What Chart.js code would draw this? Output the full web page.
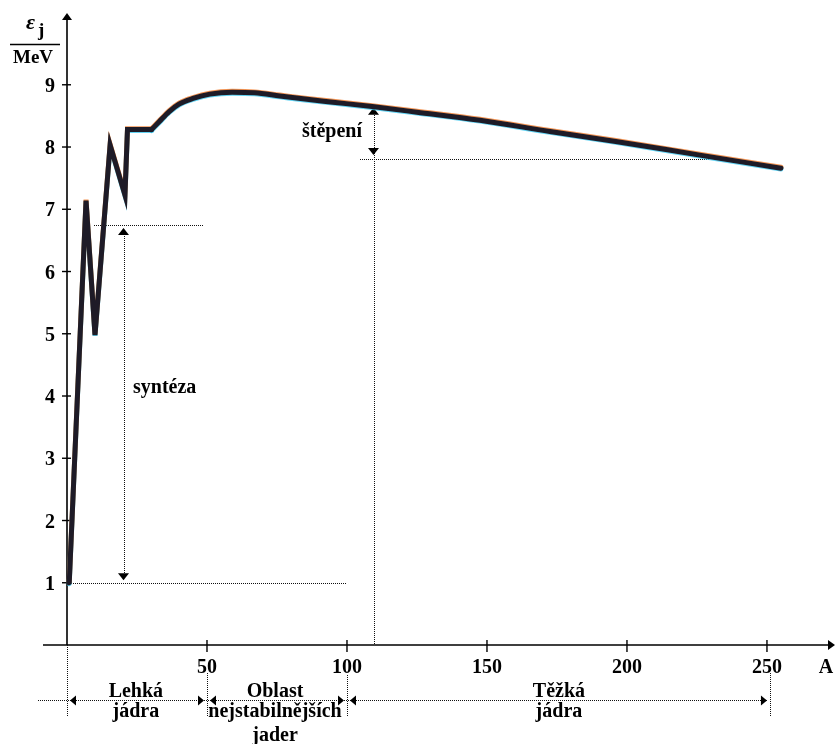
<!DOCTYPE html>
<html>
<head>
<meta charset="utf-8">
<script src="https://cdn.jsdelivr.net/npm/chart.js@4.4.1/dist/chart.umd.min.js"></script>
<style>
  html, body { margin: 0; padding: 0; background: #ffffff; }
  canvas { display: block; }
</style>
</head>
<body>
<canvas id="chart" width="836" height="744"></canvas>
<script>
// Binding energy per nucleon (MeV) against mass number A
// light nuclei: jagged part of the curve
const lightA = [0.8, 6.8, 10, 15.4, 20.7, 21.6, 30.2];
const lightE = [1.0, 7.14, 4.98, 8.03, 7.23, 8.28, 8.28];
// medium and heavy nuclei: smooth part of the curve
const heavyA = [30.2, 33, 36.5, 40, 45, 51, 59, 67, 76, 85, 95, 109, 125, 147.5, 172.5, 196, 226, 255];
const heavyE = [8.28, 8.41, 8.57, 8.69, 8.78, 8.85, 8.88, 8.87, 8.82, 8.77, 8.72, 8.65, 8.56, 8.43, 8.25, 8.09, 7.87, 7.66];

// axis tick labels
const yTicks = [1, 2, 3, 4, 5, 6, 7, 8, 9];
const xTicks = [50, 100, 150, 200, 250];

// regions of nuclei below the A axis
const regionEdges = [0, 50, 100, 250];
const regionLabels = [
  { a: 24.6, lines: ['Lehká', 'jádra'] },
  { a: 74.3, lines: ['Oblast', 'nejstabilnějších', 'jader'] },
  { a: 175.7, lines: ['Těžká', 'jádra'] }
];

// fusion and fission energy markers
const fusionA = 20, fusionFrom = 1.04, fusionTo = 6.70;
const fusionLevel = 6.74, fusionLevelFrom = 9.6, fusionLevelTo = 49;
const baseLevel = 1.0, baseLevelTo = 100;
const fissionA = 109.3, fissionTop = 8.63, fissionBottom = 7.87;
const fissionLevel = 7.81, fissionLevelFrom = 104.6, fissionLevelTo = 229.6;

const toPoints = (xs, ys) => xs.map((x, i) => ({ x: x, y: ys[i] }));

const SERIF = '"Liberation Serif", "Times New Roman", serif';
const crisp = v => Math.round(v) + 0.5;

function dotted(ctx, x1, y1, x2, y2) {
  ctx.save();
  ctx.strokeStyle = '#111';
  ctx.lineWidth = 1;
  ctx.setLineDash([1, 1]);
  ctx.beginPath();
  if (x1 === x2) {
    ctx.moveTo(crisp(x1), Math.round(y1));
    ctx.lineTo(crisp(x2), Math.round(y2));
  } else {
    ctx.moveTo(Math.round(x1), crisp(y1));
    ctx.lineTo(Math.round(x2), crisp(y2));
  }
  ctx.stroke();
  ctx.restore();
}

// filled arrow head with its tip at (x, y)
function head(ctx, x, y, dir, len, half) {
  ctx.save();
  ctx.fillStyle = '#000';
  ctx.beginPath();
  ctx.moveTo(x, y);
  if (dir === 'up') { ctx.lineTo(x - half, y + len); ctx.lineTo(x + half, y + len); }
  if (dir === 'down') { ctx.lineTo(x - half, y - len); ctx.lineTo(x + half, y - len); }
  if (dir === 'left') { ctx.lineTo(x + len, y - half); ctx.lineTo(x + len, y + half); }
  if (dir === 'right') { ctx.lineTo(x - len, y - half); ctx.lineTo(x - len, y + half); }
  ctx.closePath();
  ctx.fill();
  ctx.restore();
}

const axesAndNotes = {
  id: 'axesAndNotes',
  beforeDatasetsDraw(chart) {
    const ctx = chart.ctx;
    const xs = chart.scales.x, ys = chart.scales.y;
    const X = v => xs.getPixelForValue(v);
    const Y = v => ys.getPixelForValue(v);
    const x0 = X(0), y0 = Y(0);
    const area = chart.chartArea;

    ctx.save();
    // axes
    ctx.strokeStyle = '#000';
    ctx.lineWidth = 1.6;
    ctx.beginPath();
    ctx.moveTo(x0, y0);
    ctx.lineTo(x0, area.top + 5);
    ctx.moveTo(x0 - 24, y0);
    ctx.lineTo(area.right - 5, y0);
    ctx.stroke();
    head(ctx, x0, area.top + 1, 'up', 7, 5);
    head(ctx, area.right, y0, 'right', 7, 5);

    // ticks and tick labels
    ctx.lineWidth = 1.4;
    ctx.fillStyle = '#000';
    ctx.font = 'bold 20px ' + SERIF;
    ctx.textAlign = 'right';
    ctx.textBaseline = 'alphabetic';
    yTicks.forEach(v => {
      const py = Y(v);
      ctx.beginPath();
      ctx.moveTo(x0 - 5, py);
      ctx.lineTo(x0 + 4, py);
      ctx.stroke();
      ctx.fillText(String(v), x0 - 12, py + 7);
    });
    ctx.textAlign = 'center';
    xTicks.forEach(v => {
      const px = X(v);
      ctx.beginPath();
      ctx.moveTo(px, y0 - 5);
      ctx.lineTo(px, y0 + 7);
      ctx.stroke();
      ctx.fillText(String(v), px, y0 + 28);
    });
    ctx.fillText('A', area.right - 9, y0 + 28);

    // axis title: epsilon_j / MeV
    ctx.textAlign = 'left';
    ctx.font = 'italic bold 22px ' + SERIF;
    ctx.fillText('ε', 26, 29);
    ctx.font = 'bold 19px ' + SERIF;
    ctx.fillText('j', 38, 36);
    ctx.lineWidth = 1.5;
    ctx.beginPath();
    ctx.moveTo(10, 44.5);
    ctx.lineTo(60, 44.5);
    ctx.stroke();
    ctx.textAlign = 'center';
    ctx.fillText('MeV', 33, 63);

    // fusion (syntéza)
    dotted(ctx, x0, Y(baseLevel), X(baseLevelTo), Y(baseLevel));
    dotted(ctx, X(fusionLevelFrom), Y(fusionLevel), X(fusionLevelTo), Y(fusionLevel));
    const fx = crisp(X(fusionA));
    dotted(ctx, fx, Y(fusionTo) + 6, fx, Y(fusionFrom) - 6);
    head(ctx, fx, Y(fusionTo), 'up', 7, 5.5);
    head(ctx, fx, Y(fusionFrom), 'down', 7, 5.5);
    ctx.textAlign = 'left';
    ctx.font = 'bold 20px ' + SERIF;
    ctx.fillText('syntéza', 133, 393);

    // fission (štěpení)
    const sx = crisp(X(fissionA));
    dotted(ctx, sx, Y(fissionTop) + 5, sx, y0);
    dotted(ctx, X(fissionLevelFrom), Y(fissionLevel), X(fissionLevelTo), Y(fissionLevel));
    head(ctx, sx, Y(fissionTop), 'up', 7, 5.5);
    head(ctx, sx, Y(fissionBottom), 'down', 7, 5.5);
    ctx.fillText('štěpení', 302, 137);

    // regions of nuclei
    const rowY = y0 + 55;
    dotted(ctx, x0 - 29, rowY, X(regionEdges[regionEdges.length - 1]), rowY);
    dotted(ctx, x0, y0, x0, y0 + 72);
    dotted(ctx, X(50), y0 + 28, X(50), y0 + 72);
    dotted(ctx, X(100), y0 + 30, X(100), y0 + 72);
    dotted(ctx, X(251), y0 + 28, X(251), y0 + 72);
    const ry = crisp(rowY);
    head(ctx, X(0) + 3, ry, 'left', 6, 5);
    head(ctx, X(50) - 3, ry, 'right', 6, 5);
    head(ctx, X(50) + 3, ry, 'left', 6, 5);
    head(ctx, X(100) - 3, ry, 'right', 6, 5);
    head(ctx, X(100) + 3, ry, 'left', 6, 5);
    head(ctx, X(250), ry, 'right', 6, 5);
    ctx.textAlign = 'center';
    const baselines = [y0 + 52, y0 + 72, y0 + 96];
    regionLabels.forEach(r => {
      r.lines.forEach((t, i) => ctx.fillText(t, X(r.a), baselines[i]));
    });
    ctx.restore();
  }
};

// coloured edge copies of the curve are drawn shifted by about a pixel
const edgeShift = {
  id: 'edgeShift',
  beforeDatasetDraw(chart, args) {
    const s = chart.data.datasets[args.index].shiftY || 0;
    chart.ctx.save();
    chart.ctx.translate(0, s);
  },
  afterDatasetDraw(chart) {
    chart.ctx.restore();
  }
};

const curveStyle = {
  borderWidth: 5,
  pointRadius: 0,
  fill: false,
  clip: false,
  borderCapStyle: 'round',
  borderJoinStyle: 'miter'
};

new Chart(document.getElementById('chart'), {
  type: 'line',
  data: {
    datasets: [
      Object.assign({ data: toPoints(lightA, lightE), borderColor: '#1e1b27', tension: 0 }, curveStyle),
      Object.assign({ data: toPoints(heavyA, heavyE), borderColor: '#1e1b27', cubicInterpolationMode: 'monotone' }, curveStyle),
      Object.assign({ data: toPoints(lightA, lightE), borderColor: 'rgba(238,120,40,0.8)', tension: 0, shiftY: -0.9 }, curveStyle),
      Object.assign({ data: toPoints(heavyA, heavyE), borderColor: 'rgba(238,120,40,0.8)', cubicInterpolationMode: 'monotone', shiftY: -0.9 }, curveStyle),
      Object.assign({ data: toPoints(lightA, lightE), borderColor: 'rgba(60,200,240,0.8)', tension: 0, shiftY: 0.9 }, curveStyle),
      Object.assign({ data: toPoints(heavyA, heavyE), borderColor: 'rgba(60,200,240,0.8)', cubicInterpolationMode: 'monotone', shiftY: 0.9 }, curveStyle)
    ]
  },
  options: {
    responsive: false,
    animation: false,
    layout: { padding: { left: 67, right: 1, top: 12, bottom: 99 } },
    plugins: { legend: { display: false }, tooltip: { enabled: false } },
    scales: {
      x: { type: 'linear', min: 0, max: 274.3, display: false },
      y: { type: 'linear', min: 0, max: 10.169, display: false }
    }
  },
  plugins: [axesAndNotes, edgeShift]
});
</script>
</body>
</html>
